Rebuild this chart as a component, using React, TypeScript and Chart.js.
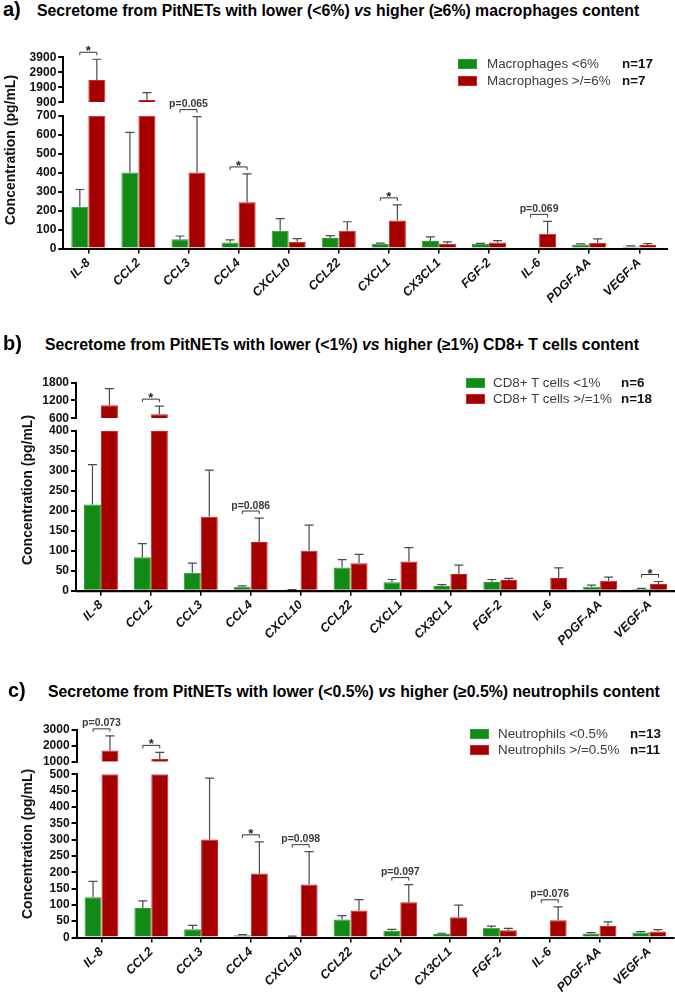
import React, { useEffect, useRef } from 'react';
import { Chart, registerables } from 'chart.js';

Chart.register(...registerables);

const FONT = '"Liberation Sans", Arial, Helvetica, sans-serif';
const GREEN = '#128a16';
const GREEN_EDGE = '#2aa033';
const RED = '#a40000';
const RED_EDGE = '#d02424';

const CATEGORIES = ['IL-8', 'CCL2', 'CCL3', 'CCL4', 'CXCL10', 'CCL22', 'CXCL1', 'CX3CL1', 'FGF-2', 'IL-6', 'PDGF-AA', 'VEGF-A'];

// ---- a) macrophages
const A_UPPER_TICKS = [900, 1900, 2900, 3900];
const A_LOWER_TICKS = [0, 100, 200, 300, 400, 500, 600, 700];
const A_LOW_MEAN = [220, 400, 49, 31, 94, 56, 25, 40, 25, null, 21, 10];
const A_LOW_ERR = [311, 612, 66, 45, 157, 68, 28, 61, 27, null, 24, 14];
const A_HIGH_MEAN = [2390, 1060, 401, 244, 35, 93, 148, 25, 31, 78, 30, 18];
const A_HIGH_ERR = [3770, 1540, 695, 393, 52, 141, 230, 35, 42, 143, 51, 26];
const A_SIG_INDEX = [0, 2, 3, 6, 9];
const A_SIG_TEXT = ['*', 'p=0.065', '*', '*', 'p=0.069'];
const A_LEGEND = ['Macrophages <6%', 'Macrophages >/=6%'];
const A_N = ['n=17', 'n=7'];

// ---- b) CD8+ T cells
const B_UPPER_TICKS = [600, 1200, 1800];
const B_LOWER_TICKS = [0, 50, 100, 150, 200, 250, 300, 350, 400];
const B_LOW_MEAN = [216, 84, 45, 10, 2, 58, 21, 12, 22, null, 10, 4];
const B_LOW_ERR = [316, 118, 69, 12, 3, 78, 28, 15, 28, null, 14, 6];
const B_HIGH_MEAN = [1040, 733, 185, 122, 100, 69, 73, 42, 27, 32, 25, 17];
const B_HIGH_ERR = [1600, 1010, 302, 182, 164, 91, 108, 64, 31, 57, 34, 23];
const B_SIG_INDEX = [1, 3, 11];
const B_SIG_TEXT = ['*', 'p=0.086', '*'];
const B_LEGEND = ['CD8+ T cells <1%', 'CD8+ T cells >/=1%'];
const B_N = ['n=6', 'n=18'];

// ---- c) neutrophils
const C_UPPER_TICKS = [1000, 2000, 3000];
const C_LOWER_TICKS = [0, 50, 100, 150, 200, 250, 300, 350, 400, 450, 500];
const C_LOW_MEAN = [123, 90, 25, 7, 3, 55, 21, 11, 30, null, 12, 15];
const C_LOW_ERR = [172, 112, 37, 9, 4, 67, 25, 13, 35, null, 15, 18];
const C_HIGH_MEAN = [1700, 1170, 300, 196, 162, 83, 108, 62, 22, 53, 35, 18];
const C_HIGH_ERR = [2630, 1590, 488, 293, 263, 116, 162, 99, 28, 94, 48, 24];
const C_SIG_INDEX = [0, 1, 3, 4, 6, 9];
const C_SIG_TEXT = ['p=0.073', '*', '*', 'p=0.098', 'p=0.097', 'p=0.076'];
const C_LEGEND = ['Neutrophils <0.5%', 'Neutrophils >/=0.5%'];
const C_N = ['n=13', 'n=11'];

const Y_TITLE = 'Concentration (pg/mL)';

type Geo = {
  canvasTop: number; canvasH: number; left: number; right: number; top: number;
  upH: number; gapH: number; lowH: number; axisL: number; axisR: number;
};

type PanelCfg = {
  letter: string; letterX: number; titleX: number; titleBase: number;
  before: string; after: string;
  upTicks: number[]; lowTicks: number[];
  gMean: (number | null)[]; gErr: (number | null)[];
  rMean: (number | null)[]; rErr: (number | null)[];
  sigIdx: number[]; sigText: string[];
  legend: string[]; n: string[];
  geo: Geo;
  yTitleX: number; yTitleY: number;
  lg: { boxX: number; textX: number; nX: number; base: number[] };
};

const PANELS: PanelCfg[] = [
  {
    letter: 'a)', letterX: 3, titleX: 37, titleBase: 16,
    before: 'Secretome from PitNETs with lower (<6%) ', after: ' higher (\u22656%) macrophages content',
    upTicks: A_UPPER_TICKS, lowTicks: A_LOWER_TICKS,
    gMean: A_LOW_MEAN, gErr: A_LOW_ERR, rMean: A_HIGH_MEAN, rErr: A_HIGH_ERR,
    sigIdx: A_SIG_INDEX, sigText: A_SIG_TEXT, legend: A_LEGEND, n: A_N,
    geo: { canvasTop: 28, canvasH: 300, left: 63.3, right: 664.3, top: 57.3, upH: 45, gapH: 13.4, lowH: 132.8, axisL: 62, axisR: 668 },
    yTitleX: 10, yTitleY: 150,
    lg: { boxX: 458, textX: 487, nX: 622, base: [68.5, 85.5] },
  },
  {
    letter: 'b)', letterX: 3, titleX: 45, titleBase: 350,
    before: 'Secretome from PitNETs with lower (<1%) ', after: ' higher (\u22651%) CD8+ T cells content',
    upTicks: B_UPPER_TICKS, lowTicks: B_LOWER_TICKS,
    gMean: B_LOW_MEAN, gErr: B_LOW_ERR, rMean: B_HIGH_MEAN, rErr: B_HIGH_ERR,
    sigIdx: B_SIG_INDEX, sigText: B_SIG_TEXT, legend: B_LEGEND, n: B_N,
    geo: { canvasTop: 360, canvasH: 310, left: 76, right: 675, top: 382.7, upH: 35.6, gapH: 12.7, lowH: 159.7, axisL: 76, axisR: 675 },
    yTitleX: 27, yTitleY: 490,
    lg: { boxX: 466, textX: 493, nX: 621, base: [387, 403] },
  },
  {
    letter: 'c)', letterX: 8, titleX: 48, titleBase: 697,
    before: 'Secretome from PitNETs with lower (<0.5%) ', after: ' higher (\u22650.5%) neutrophils content',
    upTicks: C_UPPER_TICKS, lowTicks: C_LOWER_TICKS,
    gMean: C_LOW_MEAN, gErr: C_LOW_ERR, rMean: C_HIGH_MEAN, rErr: C_HIGH_ERR,
    sigIdx: C_SIG_INDEX, sigText: C_SIG_TEXT, legend: C_LEGEND, n: C_N,
    geo: { canvasTop: 705, canvasH: 287, left: 76.6, right: 674.2, top: 730, upH: 31.7, gapH: 12.6, lowH: 163.2, axisL: 76.6, axisR: 674.2 },
    yTitleX: 27, yTitleY: 844,
    lg: { boxX: 470, textX: 498, nX: 630, base: [738, 754.5] },
  },
];

function makeOverlay(cfg: PanelCfg) {
  return {
    id: 'errOverlay',
    afterDatasetsDraw(chart: any) {
      const ctx = chart.ctx;
      const yLow = chart.scales.yLow;
      const yUp = chart.scales.yUp;
      const lowMax = cfg.lowTicks[cfg.lowTicks.length - 1];
      const px = (v: number) => (v > lowMax ? yUp.getPixelForValue(v) : yLow.getPixelForValue(v));
      const series: [(number | null)[], (number | null)[]][] = [[cfg.gMean, cfg.gErr], [cfg.rMean, cfg.rErr]];
      const tops: (number | null)[][] = [[], []];
      ctx.save();
      ctx.strokeStyle = '#4a4a4a';
      ctx.lineWidth = 1.2;
      series.forEach(([means, errs], s) => {
        const meta = chart.getDatasetMeta(s);
        means.forEach((m, i) => {
          const e = errs[i];
          if (m == null || e == null) { tops[s][i] = null; return; }
          const x = meta.data[i].x;
          const y0 = px(m);
          const y1 = px(e);
          tops[s][i] = y1;
          ctx.beginPath();
          ctx.moveTo(x, y0);
          ctx.lineTo(x, y1);
          ctx.moveTo(x - 4.5, y1);
          ctx.lineTo(x + 4.5, y1);
          ctx.stroke();
        });
      });
      cfg.sigIdx.forEach((i, k) => {
        const xg = chart.getDatasetMeta(0).data[i].x;
        const xr = chart.getDatasetMeta(1).data[i].x;
        const ys = [tops[0][i], tops[1][i]].filter((v) => v != null) as number[];
        const y = Math.min(...ys) - 7;
        ctx.strokeStyle = '#333';
        ctx.lineWidth = 1;
        ctx.beginPath();
        ctx.moveTo(xg, y + 3);
        ctx.lineTo(xg, y);
        ctx.lineTo(xr, y);
        ctx.lineTo(xr, y + 3);
        ctx.stroke();
        const t = cfg.sigText[k];
        ctx.fillStyle = '#222';
        ctx.textAlign = 'center';
        ctx.textBaseline = 'alphabetic';
        if (t === '*') {
          ctx.font = `bold 13px ${FONT}`;
          ctx.fillText(t, (xg + xr) / 2, y + 3);
        } else {
          ctx.font = `bold 10.5px ${FONT}`;
          ctx.fillStyle = '#3a3a3a';
          ctx.fillText(t, (xg + xr) / 2, y - 2.5);
        }
      });
      // extend baseline a little past the plotting band like the original axis
      const xs = chart.scales.x;
      const g = cfg.geo;
      ctx.strokeStyle = '#000';
      ctx.lineWidth = 2;
      ctx.beginPath();
      ctx.moveTo(g.axisL, xs.top + 0.5);
      ctx.lineTo(g.axisR, xs.top + 0.5);
      ctx.stroke();
      ctx.restore();
    },
  };
}

function PanelChart({ cfg }: { cfg: PanelCfg }) {
  const ref = useRef<HTMLCanvasElement>(null);
  useEffect(() => {
    const g = cfg.geo;
    const lowMax = cfg.lowTicks[cfg.lowTicks.length - 1];
    const upMin = cfg.upTicks[0];
    const upMax = cfg.upTicks[cfg.upTicks.length - 1];
    const clampLow = (v: number | null) => (v == null ? null : Math.min(v, lowMax));
    const upBar = (v: number | null) => (v != null && v > upMin ? [upMin, v] : null);
    const bottom = g.top + g.upH + g.gapH + g.lowH;
    const xH = g.canvasH - (bottom - g.canvasTop);
    const tickFont = { family: FONT, size: 12, weight: 'bold' as const };
    const yCommon = (ticks: number[]) => ({
      type: 'linear' as const,
      position: 'left' as const,
      stack: 'yst',
      stacked: false,
      afterBuildTicks: (s: any) => { s.ticks = ticks.map((v) => ({ value: v })); },
      afterFit: (s: any) => { s.width = g.left; },
      grid: { drawOnChartArea: false, drawTicks: true, tickLength: 5, color: '#000', lineWidth: 2 },
      border: { display: true, color: '#000', width: 2 },
      ticks: { padding: 2, color: '#111', font: tickFont, autoSkip: false, callback: (v: any) => String(v) },
    });
    const chart = new Chart(ref.current as HTMLCanvasElement, {
      type: 'bar',
      data: {
        labels: CATEGORIES,
        datasets: [
          { label: cfg.legend[0], data: cfg.gMean.map(clampLow) as any, yAxisID: 'yLow', stack: 'g', backgroundColor: GREEN, borderColor: GREEN_EDGE, borderWidth: 1 },
          { label: cfg.legend[1], data: cfg.rMean.map(clampLow) as any, yAxisID: 'yLow', stack: 'r', backgroundColor: RED, borderColor: RED_EDGE, borderWidth: 1 },
          { label: cfg.legend[0], data: cfg.gMean.map(upBar) as any, yAxisID: 'yUp', stack: 'g', backgroundColor: GREEN, borderColor: GREEN_EDGE, borderWidth: 1 },
          { label: cfg.legend[1], data: cfg.rMean.map(upBar) as any, yAxisID: 'yUp', stack: 'r', backgroundColor: RED, borderColor: RED_EDGE, borderWidth: 1 },
        ],
      },
      options: {
        animation: false,
        responsive: false,
        maintainAspectRatio: false,
        layout: { padding: { top: g.top - g.canvasTop, right: 675 - g.right, left: 0, bottom: 0 } },
        datasets: { bar: { categoryPercentage: 0.68, barPercentage: 1 } },
        plugins: { legend: { display: false }, tooltip: { enabled: false }, title: { display: false } },
        scales: {
          x: {
            type: 'category',
            offset: true,
            grid: { display: true, drawOnChartArea: false, drawTicks: true, tickLength: 5, offset: false, color: '#000', lineWidth: 1.5 },
            border: { display: true, color: '#000', width: 2 },
            ticks: {
              autoSkip: false, maxRotation: 45, minRotation: 45, padding: 2, color: '#111',
              font: { family: FONT, size: 12.5, weight: 'bold', style: 'italic' },
            },
            afterFit: (s: any) => { s.height = xH; },
          },
          yLow: { ...yCommon(cfg.lowTicks), min: 0, max: lowMax, stackWeight: g.lowH, weight: 1 },
          yGap: {
            type: 'linear', position: 'left', stack: 'yst', stackWeight: g.gapH, weight: 2, display: false,
            afterFit: (s: any) => { s.width = g.left; },
          },
          yUp: { ...yCommon(cfg.upTicks), min: upMin, max: upMax, stackWeight: g.upH, weight: 3 },
        } as any,
      },
      plugins: [makeOverlay(cfg)],
    });
    return () => chart.destroy();
  }, [cfg]);
  return (
    <canvas
      ref={ref}
      width={675}
      height={cfg.geo.canvasH}
      style={{ position: 'absolute', left: 0, top: cfg.geo.canvasTop, width: 675, height: cfg.geo.canvasH }}
    />
  );
}

function Txt(props: { x: number; base: number; size: number; bold?: boolean; color?: string; children: any }) {
  const { x, base, size, bold, color, children } = props;
  return (
    <div
      style={{
        position: 'absolute', left: x, top: base - 0.8465 * size, fontSize: size, lineHeight: `${size}px`,
        fontWeight: bold ? 'bold' : 'normal', color: color || '#000', whiteSpace: 'nowrap', fontFamily: FONT,
      }}
    >
      {children}
    </div>
  );
}

function Panel({ cfg }: { cfg: PanelCfg }) {
  const lg = cfg.lg;
  return (
    <>
      <PanelChart cfg={cfg} />
      <Txt x={cfg.letterX} base={cfg.titleBase} size={20} bold>{cfg.letter}</Txt>
      <Txt x={cfg.titleX} base={cfg.titleBase} size={15.8} bold>
        {cfg.before}<i>vs</i>{cfg.after}
      </Txt>
      <div
        style={{
          position: 'absolute', left: cfg.yTitleX, top: cfg.yTitleY, transform: 'translate(-50%,-50%) rotate(-90deg)',
          fontFamily: FONT, fontWeight: 'bold', fontSize: 14, whiteSpace: 'nowrap', color: '#111', lineHeight: '14px',
        }}
      >
        {Y_TITLE}
      </div>
      {cfg.legend.map((t, r) => (
        <React.Fragment key={r}>
          <div
            style={{
              position: 'absolute', left: lg.boxX, top: lg.base[r] - 9.5, width: 19, height: 10,
              background: r === 0 ? GREEN : RED, boxShadow: `inset 0 0 0 1px ${r === 0 ? GREEN_EDGE : RED_EDGE}`,
            }}
          />
          <Txt x={lg.textX} base={lg.base[r]} size={13.4} color="#3c3c3c">{t}</Txt>
          <Txt x={lg.nX} base={lg.base[r]} size={13.4} bold color="#111">{cfg.n[r]}</Txt>
        </React.Fragment>
      ))}
    </>
  );
}

export default function App() {
  return (
    <div
      style={{
        position: 'absolute', left: 0, top: 0, width: 675, height: 992, overflow: 'hidden', background: '#fff',
        fontFamily: FONT,
      }}
    >
      {PANELS.map((p, i) => (
        <Panel key={i} cfg={p} />
      ))}
    </div>
  );
}
